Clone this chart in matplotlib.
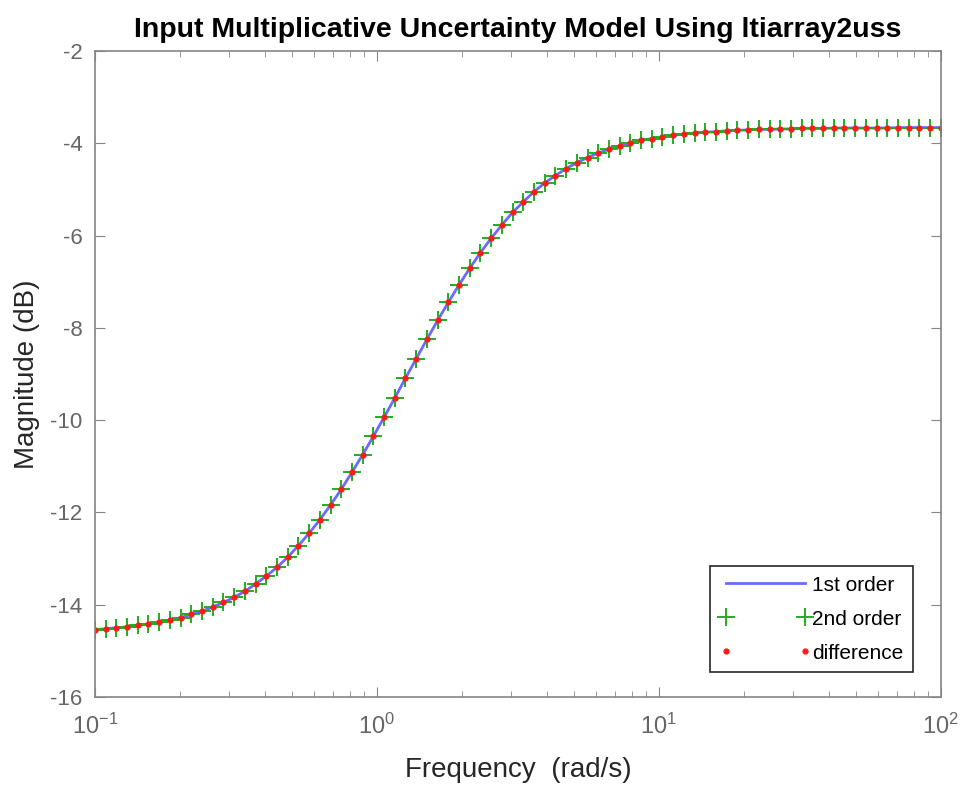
import numpy as np
import matplotlib
matplotlib.use("Agg")
import matplotlib.pyplot as plt
from matplotlib.ticker import LogLocator, FixedLocator, FuncFormatter

# frequency grid (rad/s)
freq = [0.1, 0.10914, 0.11911, 0.13000, 0.14187, 0.15484, 0.16899, 0.18443, 0.20128, 0.21968,
        0.23975, 0.26166, 0.28557, 0.31166, 0.34014, 0.37122, 0.40515, 0.44215, 0.48257, 0.52665,
        0.57479, 0.62730, 0.68464, 0.74717, 0.81547, 0.88996, 0.97128, 1.0600, 1.1569, 1.2626,
        1.3780, 1.5039, 1.6413, 1.7913, 1.9550, 2.1336, 2.3286, 2.5413, 2.7737, 3.0270,
        3.3036, 3.6054, 3.9349, 4.2943, 4.6868, 5.1150, 5.5824, 6.0925, 6.6490, 7.2567,
        7.9196, 8.6434, 9.4331, 10.295, 11.236, 12.263, 13.384, 14.606, 15.942, 17.398,
        18.988, 20.723, 22.617, 24.683, 26.939, 29.400, 32.087, 35.019, 38.219, 41.711,
        45.522, 49.682, 54.222, 59.176, 64.583, 70.484, 76.925, 83.954, 91.625, 100.0]

# magnitude (dB)
mag_db = [-14.54, -14.52, -14.50, -14.48, -14.45, -14.42, -14.38, -14.33, -14.28, -14.21,
          -14.14, -14.05, -13.95, -13.84, -13.71, -13.55, -13.38, -13.19, -12.97, -12.72,
          -12.45, -12.16, -11.84, -11.50, -11.13, -10.75, -10.35, -9.94, -9.52, -9.09,
          -8.67, -8.25, -7.84, -7.45, -7.07, -6.71, -6.37, -6.06, -5.77, -5.50,
          -5.27, -5.05, -4.86, -4.70, -4.55, -4.42, -4.31, -4.21, -4.13, -4.06,
          -4.00, -3.94, -3.90, -3.86, -3.83, -3.80, -3.78, -3.76, -3.75, -3.73,
          -3.72, -3.71, -3.70, -3.70, -3.69, -3.69, -3.68, -3.68, -3.68, -3.67,
          -3.67, -3.67, -3.67, -3.67, -3.67, -3.66, -3.66, -3.66, -3.66, -3.66]

yticks = [-16, -14, -12, -10, -8, -6, -4, -2]
legend_labels = ['1st order', '2nd order', 'difference']

plt.rcParams['font.family'] = ['Liberation Sans', 'DejaVu Sans']
plt.rcParams['axes.unicode_minus'] = False
plt.rcParams['mathtext.fontset'] = 'custom'
plt.rcParams['mathtext.rm'] = 'Liberation Sans'
plt.rcParams['mathtext.default'] = 'regular'

txtcol = '#262626'
tickcol = '#666666'
spinecol = '#858585'

fig = plt.figure(figsize=(9.64, 7.89), dpi=100)
ax = fig.add_axes([0.0985, 0.1166, 0.8775, 0.8188])

ax.semilogx(freq, mag_db, '-', color='#6a6aff', lw=2, label=legend_labels[0])
ax.semilogx(freq, mag_db, '+', color='#1fae1f', ms=12.5, mew=1.4, label=legend_labels[1])
ax.semilogx(freq, mag_db, '.', color='#ff1a1a', ms=7, label=legend_labels[2])

ax.set_xlim(0.1, 100)
ax.set_ylim(-16, -2)
ax.yaxis.set_major_locator(FixedLocator(yticks))
ax.xaxis.set_major_locator(LogLocator(base=10, numticks=10))
ax.xaxis.set_minor_locator(LogLocator(base=10, subs=np.arange(2, 10), numticks=10))
ax.xaxis.set_major_formatter(FuncFormatter(lambda v, p: '$10^{%d}$' % round(np.log10(v))))

for s in ax.spines.values():
    s.set_color(spinecol)
    s.set_linewidth(1.2)
ax.tick_params(which='both', direction='in', top=True, right=True, colors=spinecol,
               labelcolor=tickcol)
ax.tick_params(which='major', length=7)
ax.tick_params(which='minor', length=4)
ax.tick_params(axis='y', labelsize=16, pad=9)
ax.tick_params(axis='x', labelsize=17, pad=12)

ax.set_title('Input Multiplicative Uncertainty Model Using ltiarray2uss',
             fontsize=20.5, fontweight='bold', pad=10, color='black')
ax.set_xlabel('Frequency  (rad/s)', fontsize=20, color=txtcol)
ax.set_ylabel('Magnitude (dB)', fontsize=20, color=txtcol)
ax.xaxis.set_label_coords(0.5, -0.093)
ax.yaxis.set_label_coords(-0.065, 0.5)

leg = ax.legend(loc='lower right', bbox_to_anchor=(0.967, 0.0387), fontsize=15,
                handlelength=4.4, numpoints=2, handletextpad=0.05, borderaxespad=0,
                borderpad=0.45, fancybox=False, framealpha=1, edgecolor='#262626',
                labelspacing=0.72)
leg.get_frame().set_linewidth(1.2)

fig.savefig('out.png', dpi=100)
